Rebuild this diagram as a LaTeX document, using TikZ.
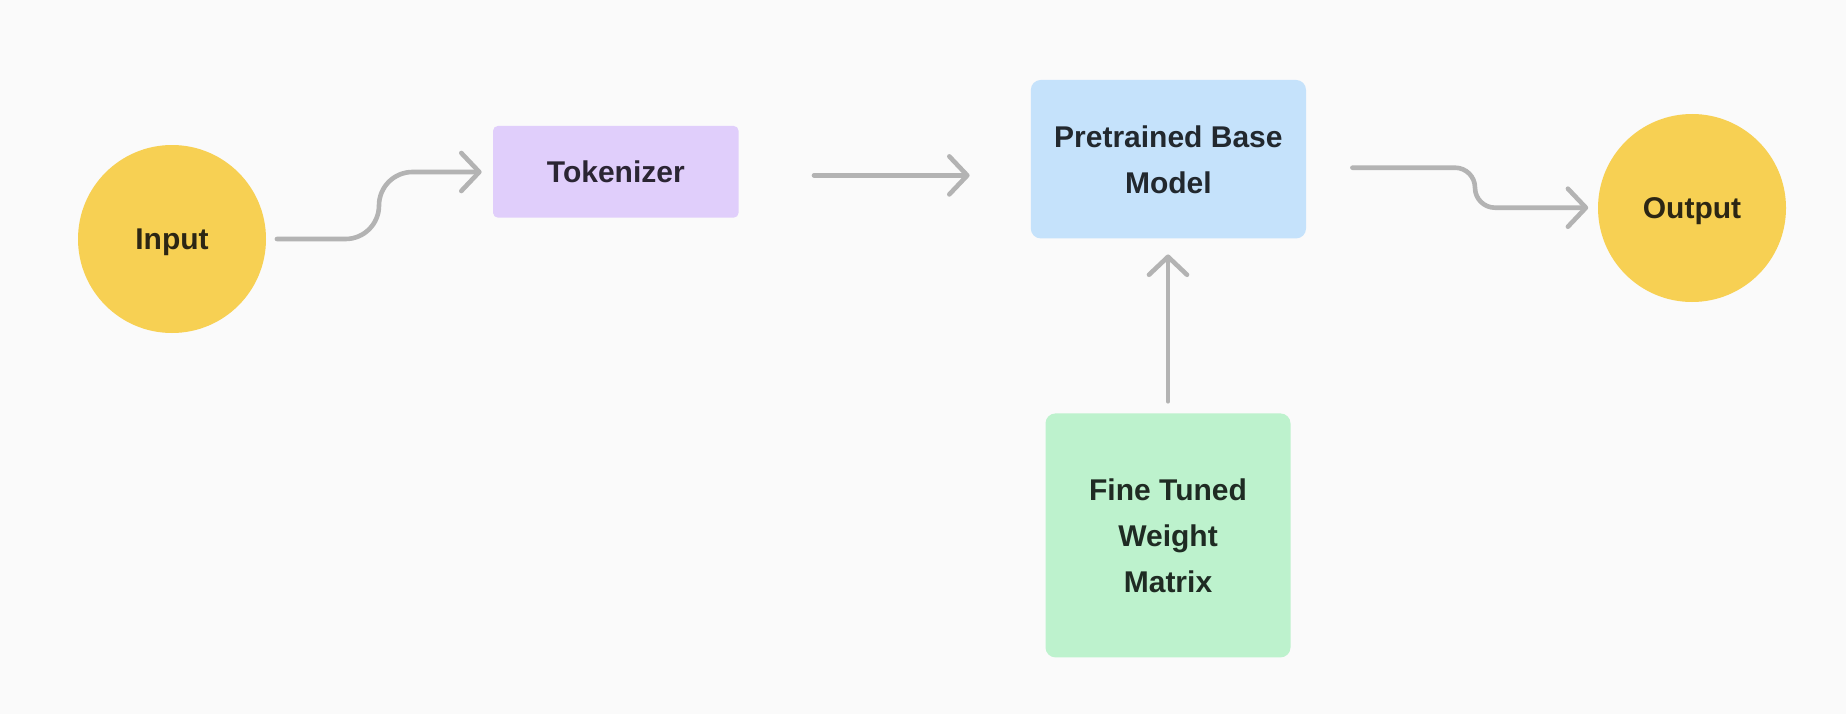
\documentclass[tikz,border=0pt]{standalone}
\usepackage{fontspec}
\setmainfont{Liberation Sans}
\usetikzlibrary{arrows.meta,calc}
\definecolor{bg}{HTML}{FAFAFA}
\definecolor{yel}{HTML}{F7D053}
\definecolor{purp}{HTML}{E0CEFB}
\definecolor{blu}{HTML}{C5E2FB}
\definecolor{grn}{HTML}{BDF2CD}
\definecolor{arr}{HTML}{B3B3B3}
\definecolor{txtY}{HTML}{2C2614}
\definecolor{txtP}{HTML}{2B2533}
\definecolor{txtB}{HTML}{22282E}
\definecolor{txtG}{HTML}{1F2B23}
\tikzset{
  lbl/.style={font=\bfseries\fontsize{15pt}{23pt}\selectfont, align=center, inner sep=0pt},
  circ/.style={lbl, circle, fill=yel, text=txtY, minimum size=94pt, text depth=0pt},
  boxp/.style={lbl, rectangle, rounded corners=2.5pt, fill=purp, text=txtP},
  boxb/.style={lbl, rectangle, rounded corners=5pt, fill=blu, text=txtB, text depth=-2.6pt},
  boxg/.style={lbl, rectangle, rounded corners=5pt, fill=grn, text=txtG, text depth=-2.5pt},
  conn/.style={draw=arr, line width=2.3pt, line cap=round, line join=round,
    -{Straight Barb[length=9pt, width=19pt, round]}}
}
\begin{document}
\begin{tikzpicture}[x=1pt,y=1pt]
\fill[bg] (0,0) rectangle (923,357);
\useasboundingbox (0,0) rectangle (923,357);

\node[circ] (inp) at (86,237.5) {Input};
\node[boxp, minimum width=122.8pt, minimum height=45.9pt] (tok) at (307.9,271.1) {Tokenizer};
\node[boxb, minimum width=137.6pt, minimum height=79.25pt] (pre) at (584.2,277.4) {Pretrained Base\\Model};
\node[boxg, minimum width=122.5pt, minimum height=122pt] (fin) at (584,89.3) {Fine Tuned\\Weight\\Matrix};
\node[circ] (out) at (846,253) {Output};

% Input -> Tokenizer
\coordinate (a1s) at ($(inp.east)+(5.25pt,0)$);
\coordinate (a1e) at ($(tok.west)+(-5.5pt,-0.1pt)$);
\draw[conn] (a1s) -- (a1s -| 172.75,0) arc[start angle=-90, end angle=0, radius=16.75]
  arc[start angle=180, end angle=90, radius=16.75] -- (a1e);

% Tokenizer -> Pretrained
\coordinate (a2s) at ($(tok.east)+(37.5pt,-1.8pt)$);
\coordinate (a2e) at ($(pre.west)+(-30.4pt,0)$);
\draw[conn] (a2s) -- (a2s -| a2e);

% Pretrained -> Output
\coordinate (a3s) at ($(pre.east)+(23pt,-4.25pt)$);
\coordinate (a3e) at ($(out.west)+(-4.7pt,0.15pt)$);
\draw[conn] (a3s) -- (a3s -| 727.5,0) arc[start angle=90, end angle=0, radius=10]
  arc[start angle=180, end angle=270, radius=10] -- (a3e);

% Fine tuned -> Pretrained
\coordinate (a4s) at ($(fin.north)+(0,5.85pt)$);
\coordinate (a4e) at ($(pre.south)+(0,-7.8pt)$);
\draw[conn] (a4s) -- (a4s |- a4e);
\end{tikzpicture}
\end{document}
